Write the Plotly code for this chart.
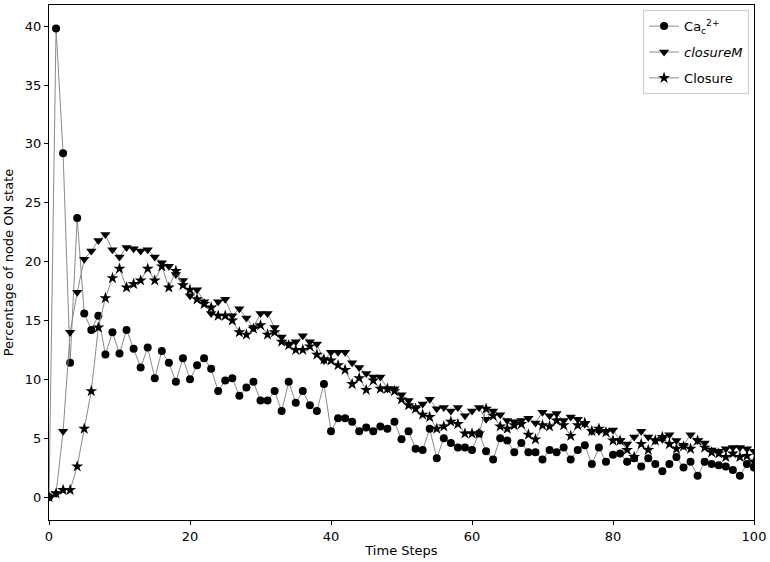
import plotly.graph_objects as go

time_steps = list(range(0, 101))

ca_c = [0, 39.8, 29.2, 11.4, 23.7, 15.6, 14.2, 15.4, 12.1, 14.0,
        12.2, 14.2, 12.6, 11.0, 12.7, 10.1, 12.4, 11.4, 9.8, 11.8,
        10.0, 11.2, 11.8, 10.9, 9.0, 9.9, 10.1, 8.6, 9.3, 9.8,
        8.2, 8.2, 9.0, 7.3, 9.8, 8.0, 9.0, 7.8, 7.3, 9.6,
        5.6, 6.7, 6.7, 6.4, 5.6, 5.9, 5.6, 6.0, 5.8, 6.4,
        4.9, 5.6, 4.1, 4.0, 5.8, 3.3, 5.0, 4.6, 4.2, 4.2,
        4.0, 5.4, 3.9, 3.2, 5.0, 4.8, 3.8, 4.6, 3.8, 3.8,
        3.2, 4.0, 3.8, 4.2, 3.2, 4.0, 4.4, 2.8, 4.2, 3.0,
        3.6, 3.7, 3.0, 3.3, 2.6, 3.3, 2.8, 2.2, 2.8, 3.4,
        2.5, 3.0, 1.8, 3.0, 2.8, 2.7, 2.6, 2.3, 1.8, 2.8,
        2.5]

closure_m = [0, 0.3, 5.6, 14.0, 17.4, 20.2, 20.9, 21.8, 22.3, 21.0,
             20.4, 21.2, 21.1, 20.9, 21.0, 20.4, 19.9, 19.6, 18.9, 18.4,
             17.1, 17.6, 16.6, 15.6, 16.6, 16.8, 15.4, 16.0, 15.2, 14.4,
             15.6, 15.6, 14.4, 13.6, 13.0, 13.2, 13.7, 13.2, 13.0, 11.6,
             12.3, 12.3, 12.3, 11.4, 11.0, 10.5, 10.2, 10.2, 9.2, 9.2,
             8.7, 8.2, 7.6, 7.9, 8.3, 7.5, 7.6, 7.3, 7.6, 6.9,
             7.3, 7.6, 6.6, 7.3, 7.0, 6.5, 6.4, 6.5, 6.7, 6.3,
             7.2, 6.9, 7.1, 6.5, 6.8, 6.6, 6.2, 5.6, 5.6, 5.6,
             5.7, 4.8, 4.5, 5.1, 5.6, 5.1, 4.8, 4.9, 5.3, 4.8,
             4.4, 5.3, 4.8, 4.6, 4.0, 3.9, 4.1, 4.2, 4.2, 4.1,
             3.9]

closure = [0, 0.3, 0.6, 0.6, 2.6, 5.8, 9.0, 14.4, 16.9, 18.6,
           19.4, 17.8, 18.1, 18.4, 19.4, 18.4, 19.6, 17.8, 19.2, 18.0,
           17.6, 16.8, 16.4, 16.1, 15.4, 15.4, 15.0, 14.0, 13.8, 14.3,
           14.6, 13.8, 14.0, 13.2, 12.9, 12.5, 12.5, 12.8, 12.1, 11.7,
           11.6, 11.2, 10.8, 9.6, 10.1, 9.1, 9.9, 9.2, 9.2, 9.0,
           8.3, 7.8, 7.5, 7.0, 6.8, 5.8, 6.0, 6.4, 6.2, 5.4,
           5.4, 5.4, 7.5, 6.9, 6.0, 5.8, 6.1, 6.2, 5.3, 4.9,
           6.1, 6.0, 6.5, 6.1, 5.2, 6.1, 6.3, 5.6, 5.8, 5.5,
           4.8, 4.8, 4.0, 3.4, 4.5, 4.0, 4.8, 5.1, 4.5, 4.1,
           4.3, 4.1, 4.8, 4.2, 3.8, 3.7, 3.4, 3.7, 3.4, 3.5,
           3.0]

x_ticks = [0, 20, 40, 60, 80, 100]
y_ticks = [0, 5, 10, 15, 20, 25, 30, 35, 40]

line_color = "#8a8a8a"
font_family = "DejaVu Sans, sans-serif"

fig = go.Figure()
fig.add_trace(go.Scatter(
    x=time_steps, y=ca_c, mode="lines+markers",
    name="Ca<sub>c</sub><sup>2+</sup>", legendgroup="a",
    line=dict(color=line_color, width=1),
    marker=dict(symbol="circle", size=8, color="black"),
))
fig.add_trace(go.Scatter(
    x=time_steps, y=closure_m, mode="lines+markers",
    name="<i>closureM</i>", legendgroup="b",
    line=dict(color=line_color, width=1),
    marker=dict(symbol="triangle-down", size=9, color="black"),
))
fig.add_trace(go.Scatter(
    x=time_steps, y=closure, mode="lines+markers",
    name="Closure", legendgroup="c",
    line=dict(color=line_color, width=1),
    marker=dict(symbol="star", size=9, color="black"),
))

axis_common = dict(
    showgrid=False, zeroline=False, showline=True, linecolor="black",
    linewidth=1, mirror=True, ticks="outside", ticklen=4, tickcolor="black",
    tickfont=dict(size=13, color="black", family=font_family),
)

fig.update_layout(
    width=770, height=562,
    margin=dict(l=49, r=13, t=4, b=42),
    paper_bgcolor="white", plot_bgcolor="white",
    font=dict(family=font_family, size=13, color="black"),
    showlegend=True,
    legend=dict(
        x=0.993, y=0.99, xanchor="right", yanchor="top",
        bgcolor="white", bordercolor="#cccccc", borderwidth=1,
        font=dict(size=13, family=font_family, color="black"),
        tracegroupgap=6,
    ),
    xaxis=dict(range=[0, 100], tickvals=x_ticks,
               title=dict(text="Time Steps", standoff=3,
                          font=dict(size=13, family=font_family)),
               **axis_common),
    yaxis=dict(range=[-1.95, 41.8], tickvals=y_ticks,
               title=dict(text="Percentage of node ON state", standoff=8,
                          font=dict(size=13, family=font_family)),
               **axis_common),
)

fig.write_html("out.html",
               config={"displayModeBar": False},
               post_script="document.body.style.margin='0';document.body.style.padding='0';")
